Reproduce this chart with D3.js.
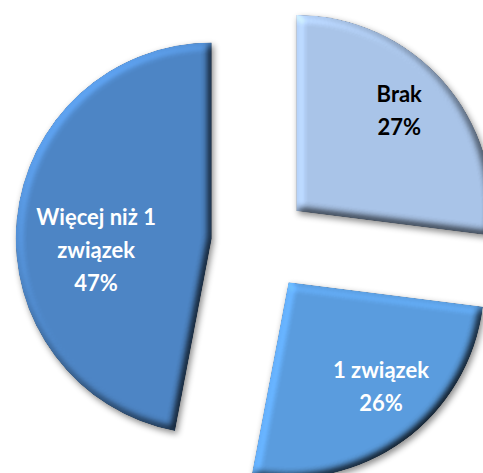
<!DOCTYPE html>
<html>
<head>
<meta charset="utf-8">
<script src="https://cdn.jsdelivr.net/npm/d3@7"></script>
<style>
  html, body { margin: 0; padding: 0; background: #fff; }
  svg { display: block; }
</style>
</head>
<body>
<svg id="chart" width="483" height="473"></svg>
<script>
// ---- data ----
const categories = ["Brak", "1 związek", "Więcej niż 1 związek"];
const values = [27, 26, 47];
const categoryLines = [["Brak"], ["1 związek"], ["Więcej niż 1", "związek"]];
const colors = ["#a9c4e8", "#5a9cde", "#4d85c5"];
const labelColors = ["#000000", "#ffffff", "#ffffff"];

// ---- layout ----
const W = 483, H = 473;
const cx = 260, cy = 243;
const R = 196;
const explode = 48.5;
const labelPlace = [ {frac: 0.732, dAng: -2.8}, {frac: 0.712, dAng: -5.5}, {frac: 0.593, dAng: -11.3} ];
const fontSize = 22, lineH = 33;

const svg = d3.select("#chart");
const defs = svg.append("defs");

const f = defs.append("filter").attr("id", "bevel")
  .attr("x", "-20%").attr("y", "-20%").attr("width", "140%").attr("height", "140%")
  .attr("color-interpolation-filters", "sRGB");
f.append("feGaussianBlur").attr("in", "SourceAlpha").attr("stdDeviation", 4).attr("result", "blur");
const dl = f.append("feDiffuseLighting").attr("in", "blur").attr("surfaceScale", 5)
  .attr("diffuseConstant", 1).attr("lighting-color", "#ffffff").attr("result", "light");
dl.append("feDistantLight").attr("azimuth", 225).attr("elevation", 55);
f.append("feComposite").attr("in", "SourceGraphic").attr("in2", "light")
  .attr("operator", "arithmetic").attr("k1", 1.22).attr("k2", 0).attr("k3", 0).attr("k4", 0).attr("result", "lit");
f.append("feComposite").attr("in", "lit").attr("in2", "SourceAlpha").attr("operator", "in").attr("result", "litIn");
f.append("feGaussianBlur").attr("in", "SourceAlpha").attr("stdDeviation", 3).attr("result", "sblur");
f.append("feOffset").attr("in", "sblur").attr("dx", 2).attr("dy", 3).attr("result", "soff");
f.append("feFlood").attr("flood-color", "#000").attr("flood-opacity", 0.45).attr("result", "sc");
f.append("feComposite").attr("in", "sc").attr("in2", "soff").attr("operator", "in").attr("result", "shadow");
const m = f.append("feMerge");
m.append("feMergeNode").attr("in", "shadow");
m.append("feMergeNode").attr("in", "litIn");

const pie = d3.pie().sort(null).value(d => d).startAngle(0).endAngle(2 * Math.PI);
const arcs = pie(values);
const arc = d3.arc().innerRadius(0).outerRadius(R);

const g = svg.append("g").attr("transform", `translate(${cx},${cy})`);

const slices = g.selectAll("g.slice").data(arcs).enter().append("g")
  .attr("class", "slice")
  .attr("transform", d => {
    const a = (d.startAngle + d.endAngle) / 2;
    return `translate(${explode * Math.sin(a)},${-explode * Math.cos(a)})`;
  });

slices.append("path")
  .attr("d", arc)
  .attr("fill", (d, i) => colors[i])
  .attr("filter", "url(#bevel)");

slices.each(function(d, i) {
  const a = (d.startAngle + d.endAngle) / 2 + labelPlace[i].dAng * Math.PI / 180;
  const rr = R * labelPlace[i].frac;
  const x = rr * Math.sin(a), y = -rr * Math.cos(a);
  const lines = categoryLines[i].concat([values[i] + "%"]);
  const t = d3.select(this).append("text")
    .attr("text-anchor", "middle")
    .attr("font-family", "Lato, 'Open Sans', sans-serif")
    .attr("font-weight", "bold")
    .attr("font-size", fontSize)
    .attr("fill", labelColors[i]);
  const n = lines.length;
  lines.forEach((ln, k) => {
    t.append("tspan").attr("x", x)
      .attr("y", y + (k - (n - 1) / 2) * lineH)
      .attr("dy", "0.35em")
      .text(ln);
  });
});
</script>
</body>
</html>
